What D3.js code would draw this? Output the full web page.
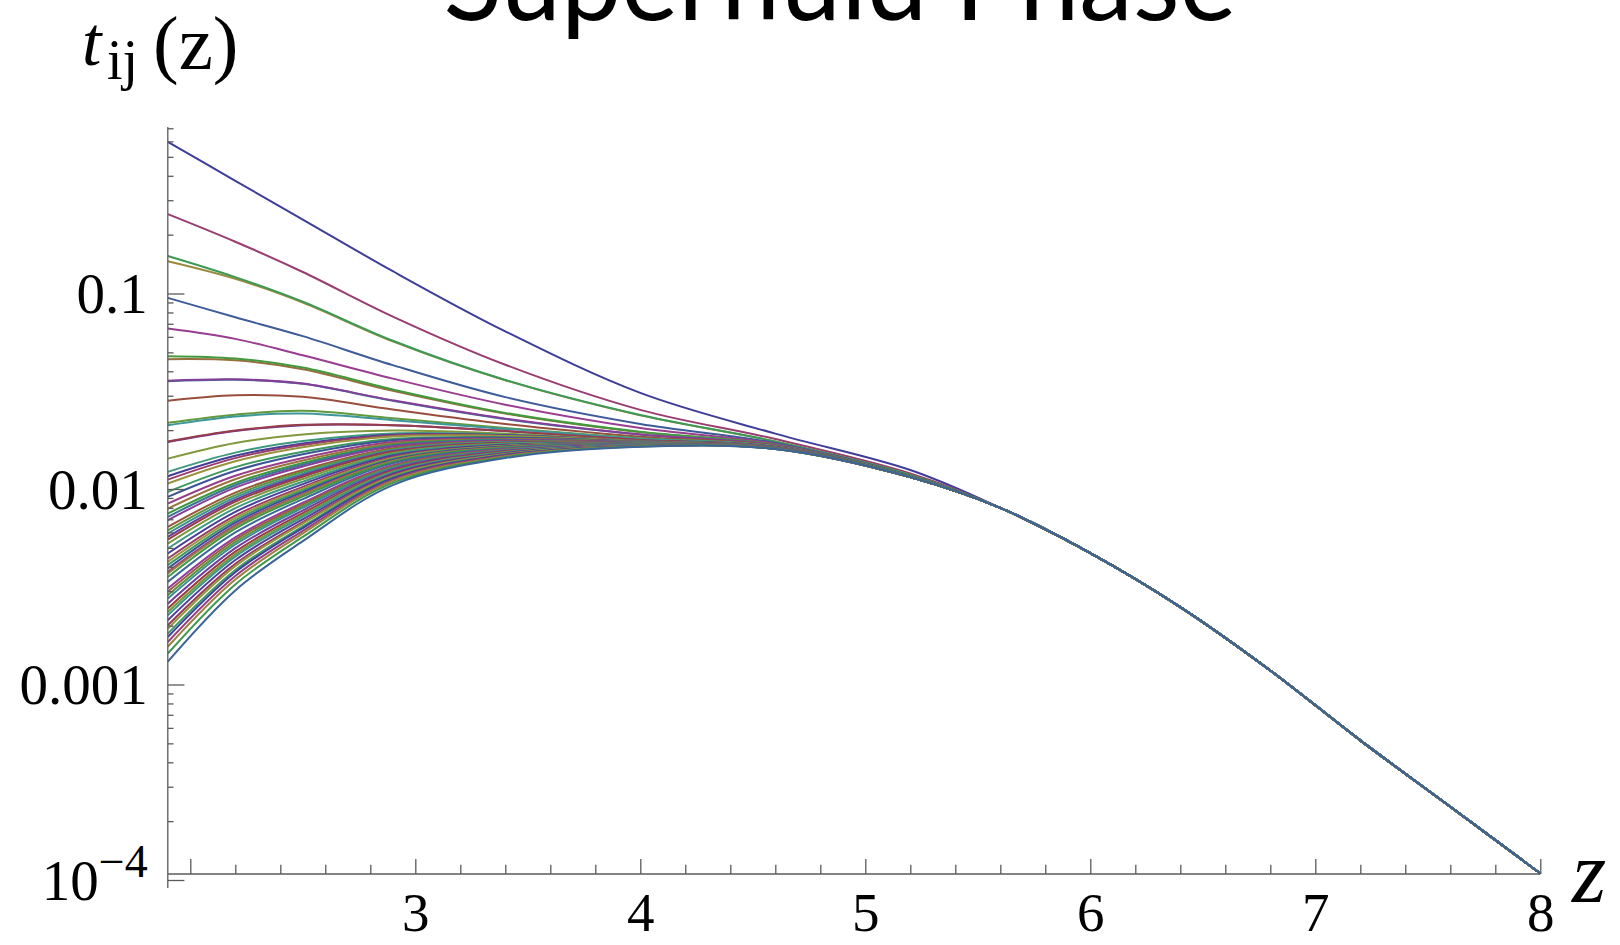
<!DOCTYPE html>
<html><head><meta charset="utf-8">
<script src="https://cdn.jsdelivr.net/npm/d3@7"></script>
<style>
html,body{margin:0;padding:0;background:#fff;}
svg{display:block;}
</style></head>
<body>
<svg id="chart" width="1620" height="945"></svg>
<script>
// ---------------- data ----------------
const titleText = "Superfluid Phase";
const xLabelText = "z";
const xMajorTicks = [2, 3, 4, 5, 6, 7, 8];
const xLabeledTicks = [3, 4, 5, 6, 7, 8];
const yMajorTicks = [1e-4, 1e-3, 1e-2, 1e-1];
const yMajorLabels = ["10^-4", "0.001", "0.01", "0.1"];

// z sample points (head: series-specific, tail: shared by all series)
const zHead = [1.9, 2.2, 2.5, 2.9, 3.4, 4.0, 4.6, 5.2];
const zTail = [5.6, 6.0, 6.4, 6.8, 7.2, 7.6, 8.0];
const tailValues = [0.0080, 0.0047, 0.00249, 0.00118, 0.000518, 0.000237, 0.000108];

// upper, individually visible curves (values at zHead)
const upperSeries = [
  [0.596, 0.377, 0.239, 0.130, 0.064, 0.031, 0.0192, 0.0125],
  [0.2547, 0.184, 0.1288, 0.0762, 0.0432, 0.0254, 0.0180, 0.0120],
  [0.1462, 0.1189, 0.0899, 0.0569, 0.0360, 0.0238, 0.0175, 0.0118],
  [0.1556, 0.1213, 0.0908, 0.0573, 0.0361, 0.0239, 0.0175, 0.0118],
  [0.095, 0.0756, 0.0605, 0.043, 0.0295, 0.0215, 0.0172, 0.0117],
  [0.0662, 0.0586, 0.0483, 0.0367, 0.0270, 0.0205, 0.0170, 0.0116],
  [0.0461, 0.0455, 0.041, 0.0318, 0.0243, 0.0195, 0.0168, 0.0116],
  [0.0478, 0.0465, 0.0418, 0.0323, 0.0245, 0.0196, 0.0168, 0.0116],
  [0.0356, 0.0362, 0.0345, 0.0283, 0.0228, 0.0190, 0.0167, 0.0115],
  [0.0358, 0.0364, 0.0346, 0.0284, 0.0229, 0.0190, 0.0167, 0.0115],
  [0.0283, 0.0302, 0.0296, 0.0255, 0.0215, 0.0185, 0.0166, 0.0115],
  [0.0218, 0.0240, 0.0251, 0.0230, 0.0205, 0.0182, 0.0165, 0.0115],
  [0.0212, 0.0235, 0.0243, 0.0225, 0.0203, 0.0181, 0.0165, 0.0115],
  [0.0174, 0.0198, 0.0212, 0.0212, 0.0198, 0.0178, 0.0164, 0.0115],
  [0.0175, 0.0199, 0.0213, 0.0212, 0.0198, 0.0178, 0.0164, 0.0115],
  [0.0143, 0.0172, 0.0190, 0.0199, 0.0192, 0.0176, 0.0163, 0.0115]
];

// dense lower bundle (values at zHead)
const bundleSeries = [
  [0.01224, 0.01535, 0.01758, 0.01923, 0.01897, 0.01759, 0.01635, 0.0115],
  [0.01163, 0.01479, 0.01710, 0.01897, 0.01884, 0.01756, 0.01634, 0.0115],
  [0.01117, 0.01439, 0.01679, 0.01879, 0.01875, 0.01754, 0.01633, 0.0115],
  [0.01067, 0.01387, 0.01633, 0.01854, 0.01866, 0.01752, 0.01632, 0.0115],
  [0.00967, 0.01294, 0.01552, 0.01803, 0.01841, 0.01747, 0.01631, 0.0115],
  [0.00911, 0.01239, 0.01507, 0.01778, 0.01828, 0.01744, 0.01630, 0.0115],
  [0.00842, 0.01169, 0.01442, 0.01738, 0.01811, 0.01740, 0.01629, 0.0115],
  [0.00794, 0.01122, 0.01400, 0.01710, 0.01799, 0.01737, 0.01628, 0.0115],
  [0.00749, 0.01074, 0.01358, 0.01683, 0.01786, 0.01734, 0.01627, 0.0115],
  [0.00720, 0.01045, 0.01330, 0.01667, 0.01778, 0.01732, 0.01626, 0.0115],
  [0.00693, 0.01016, 0.01303, 0.01648, 0.01770, 0.01730, 0.01626, 0.0115],
  [0.00640, 0.00959, 0.01250, 0.01614, 0.01750, 0.01726, 0.01625, 0.0115],
  [0.00615, 0.00931, 0.01225, 0.01596, 0.01742, 0.01724, 0.01624, 0.0115],
  [0.00592, 0.00906, 0.01199, 0.01578, 0.01734, 0.01722, 0.01623, 0.0115],
  [0.00569, 0.00881, 0.01175, 0.01563, 0.01726, 0.01720, 0.01623, 0.0115],
  [0.00551, 0.00861, 0.01156, 0.01549, 0.01718, 0.01718, 0.01622, 0.0115],
  [0.00526, 0.00832, 0.01125, 0.01528, 0.01710, 0.01715, 0.01621, 0.0115],
  [0.00496, 0.00798, 0.01091, 0.01507, 0.01698, 0.01712, 0.01621, 0.0115],
  [0.00468, 0.00764, 0.01059, 0.01483, 0.01683, 0.01709, 0.01620, 0.0115],
  [0.00441, 0.00731, 0.01026, 0.01459, 0.01671, 0.01706, 0.01619, 0.0115],
  [0.00424, 0.00711, 0.01005, 0.01442, 0.01663, 0.01704, 0.01618, 0.0115],
  [0.00408, 0.00692, 0.00984, 0.01426, 0.01656, 0.01702, 0.01618, 0.0115],
  [0.00392, 0.00673, 0.00964, 0.01413, 0.01648, 0.01700, 0.01617, 0.0115],
  [0.00377, 0.00653, 0.00944, 0.01396, 0.01641, 0.01698, 0.01616, 0.0115],
  [0.00370, 0.00644, 0.00935, 0.01390, 0.01637, 0.01697, 0.01616, 0.0115],
  [0.00355, 0.00627, 0.00916, 0.01374, 0.01629, 0.01695, 0.01615, 0.0115],
  [0.00335, 0.00600, 0.00887, 0.01352, 0.01614, 0.01692, 0.01615, 0.0115],
  [0.00310, 0.00566, 0.00851, 0.01324, 0.01600, 0.01688, 0.01613, 0.0115],
  [0.00298, 0.00550, 0.00834, 0.01309, 0.01592, 0.01686, 0.01613, 0.0115],
  [0.00286, 0.00535, 0.00817, 0.01294, 0.01585, 0.01684, 0.01612, 0.0115],
  [0.00275, 0.00520, 0.00800, 0.01282, 0.01578, 0.01682, 0.01611, 0.0115],
  [0.00259, 0.00498, 0.00776, 0.01262, 0.01567, 0.01679, 0.01611, 0.0115],
  [0.00245, 0.00478, 0.00753, 0.01242, 0.01556, 0.01676, 0.01610, 0.0115],
  [0.00235, 0.00463, 0.00736, 0.01227, 0.01545, 0.01674, 0.01609, 0.0115],
  [0.00226, 0.00451, 0.00721, 0.01216, 0.01538, 0.01672, 0.01608, 0.0115],
  [0.00213, 0.00433, 0.00700, 0.01197, 0.01528, 0.01669, 0.01608, 0.0115],
  [0.00201, 0.00414, 0.00678, 0.01178, 0.01517, 0.01666, 0.01607, 0.0115],
  [0.00193, 0.00403, 0.00665, 0.01164, 0.01510, 0.01664, 0.01606, 0.0115],
  [0.00182, 0.00385, 0.00644, 0.01146, 0.01500, 0.01661, 0.01605, 0.0115],
  [0.00175, 0.00375, 0.00631, 0.01135, 0.01493, 0.01659, 0.01605, 0.0115],
  [0.00165, 0.00359, 0.00611, 0.01117, 0.01483, 0.01656, 0.01604, 0.0115],
  [0.00156, 0.00344, 0.00593, 0.01099, 0.01469, 0.01653, 0.01603, 0.0115],
  [0.00144, 0.00325, 0.00569, 0.01074, 0.01455, 0.01649, 0.01601, 0.0115],
  [0.00131, 0.00303, 0.00541, 0.01047, 0.01439, 0.01644, 0.01600, 0.0115]
];

// plot range (value where the z axis crosses, and top of vertical axis)
const yAxisCross = 1.073e-4;
const yAxisTop = 0.711;
const zAxisStart = 1.9;

// ---------------- drawing ----------------
const svg = d3.select("#chart");
const serif = "'Liberation Serif','Times New Roman',Times,serif";

const x = d3.scaleLinear().domain([2, 8]).range([190.3, 1540.3]);
const y = d3.scaleLog().domain([1e-4, 1]).range([880, 98]);

function hsv(h, s, v) {
  const i = Math.floor(h * 6), f = h * 6 - i;
  const p = v * (1 - s), q = v * (1 - f * s), t = v * (1 - (1 - f) * s);
  let r, g, b;
  switch (((i % 6) + 6) % 6) {
    case 0: r = v; g = t; b = p; break;
    case 1: r = q; g = v; b = p; break;
    case 2: r = p; g = v; b = t; break;
    case 3: r = p; g = q; b = v; break;
    case 4: r = t; g = p; b = v; break;
    default: r = v; g = p; b = q;
  }
  return d3.rgb(r * 255, g * 255, b * 255).formatHex();
}
const palette = k => hsv((0.67 + 0.236068 * k) % 1, 0.6, 0.6);

const allSeries = upperSeries.concat(bundleSeries).map(head =>
  zHead.map((z, i) => ({ z, v: head[i] })).concat(zTail.map((z, i) => ({ z, v: tailValues[i] })))
);

const axisColor = "#5a5a5a";
const yAxisX = x(zAxisStart);
const xAxisY = y(yAxisCross);

// curves
const line = d3.line().x(d => x(d.z)).y(d => y(d.v)).curve(d3.curveCatmullRom.alpha(0.5));
svg.append("g").selectAll("path").data(allSeries).join("path")
  .attr("d", line)
  .attr("fill", "none")
  .attr("stroke", (d, i) => palette(i))
  .attr("stroke-width", 2)
  .attr("stroke-linejoin", "round");

// y axis
const yMinor = [];
for (let e = -4; e <= -1; e++) for (let m = 2; m <= 9; m++) {
  const v = m * Math.pow(10, e);
  if (v <= yAxisTop) yMinor.push(v);
}
const gyMinor = svg.append("g").attr("transform", `translate(${yAxisX},0)`)
  .call(d3.axisLeft(y).tickValues(yMinor).tickSize(-5.7).tickSizeOuter(0).tickFormat(""));
const gyMajor = svg.append("g").attr("transform", `translate(${yAxisX},0)`)
  .call(d3.axisLeft(y).tickValues(yMajorTicks).tickSize(-16.6).tickSizeOuter(0).tickPadding(20)
    .tickFormat((d, i) => yMajorLabels[i]));
[gyMinor, gyMajor].forEach(g => {
  g.select(".domain").remove();
  g.selectAll("line").attr("stroke", axisColor).attr("stroke-width", 1.3);
});
gyMajor.selectAll("text")
  .attr("font-family", serif).attr("font-size", 57).attr("fill", "#000")
  .attr("dy", "0.34em")
  .each(function (d, i) {
    const lab = yMajorLabels[i];
    if (lab.indexOf("^") >= 0) {
      const [base, ex] = lab.split("^");
      const t = d3.select(this).text(null);
      t.append("tspan").text(base);
      t.append("tspan").attr("font-size", 46).attr("dy", "-0.5em").text(ex.replace("-", "\u2212"));
    }
  });
svg.append("line")
  .attr("x1", yAxisX).attr("x2", yAxisX)
  .attr("y1", y(yAxisTop)).attr("y2", y(1e-4) + 8)
  .attr("stroke", axisColor).attr("stroke-width", 1.3);

// x axis
const xMinor = d3.range(11, 40).map(k => k / 5).filter(v => Math.abs(v - Math.round(v)) > 1e-9);
const gxMinor = svg.append("g").attr("transform", `translate(0,${xAxisY})`)
  .call(d3.axisBottom(x).tickValues(xMinor).tickSize(-9.3).tickSizeOuter(0).tickFormat(""));
const gxMajor = svg.append("g").attr("transform", `translate(0,${xAxisY})`)
  .call(d3.axisBottom(x).tickValues(xMajorTicks).tickSize(-15).tickSizeOuter(0)
    .tickFormat(d => xLabeledTicks.includes(d) ? String(d) : ""));
[gxMinor, gxMajor].forEach(g => {
  g.select(".domain").remove();
  g.selectAll("line").attr("stroke", axisColor).attr("stroke-width", 1.3);
});
gxMajor.selectAll("text")
  .attr("font-family", serif).attr("font-size", 55).attr("fill", "#000")
  .attr("y", 57).attr("dy", null);
svg.append("line")
  .attr("x1", yAxisX).attr("x2", x(8))
  .attr("y1", xAxisY).attr("y2", xAxisY)
  .attr("stroke", axisColor).attr("stroke-width", 1.3);

// axis labels
svg.append("text").attr("x", 1572).attr("y", 902)
  .attr("font-family", serif).attr("font-style", "italic").attr("font-size", 88)
  .text(xLabelText);

const yl = svg.append("text").attr("font-family", serif).attr("fill", "#000");
yl.append("tspan").attr("x", 82).attr("y", 65).attr("font-style", "italic").attr("font-size", 70).text("t");
yl.append("tspan").attr("x", 107).attr("y", 79).attr("font-size", 56).text("ij");
yl.append("tspan").attr("x", 153).attr("y", 69).attr("font-size", 77).text("(z)");

// title (partially cut at the top, as in the original)
const title = svg.append("text").attr("x", 840).attr("y", 20)
  .attr("text-anchor", "middle")
  .attr("font-family", "Lato, 'Open Sans', sans-serif")
  .attr("font-size", 100).text(titleText);
const tl = title.node().getComputedTextLength();
title.attr("font-size", 100 * 793 / tl);
</script>
</body></html>
